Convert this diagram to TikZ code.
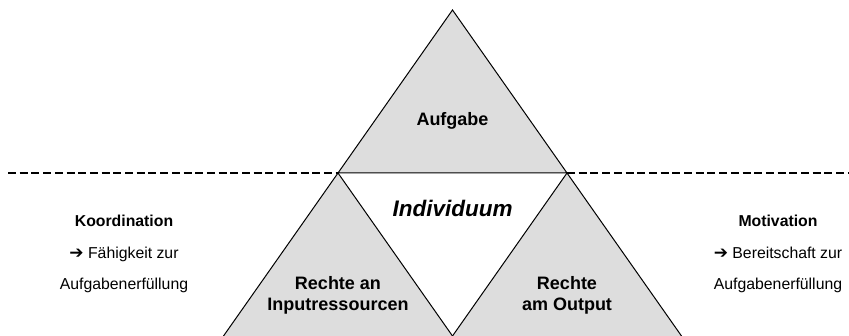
\documentclass[tikz,border=0pt]{standalone}
\usepackage{fontspec}
\setmainfont{Liberation Sans}
\newfontfamily\symfont{DejaVu Sans Bold}
\definecolor{trifill}{HTML}{DDDDDD}
\newcommand\heavyarrow{{\symfont\fontsize{17}{31.5}\selectfont ➔}}
\begin{document}
\begin{tikzpicture}[x=1pt,y=-1pt,
  tri/.style={fill=trifill,draw=black,line width=1pt,line join=miter},
  sep/.style={draw=black,line width=1.6pt,dash pattern=on 8pt off 3.7pt},
  inner/.style={font=\fontsize{18}{21.5}\selectfont\bfseries,align=center,anchor=base,inner sep=0pt},
  side/.style={font=\fontsize{15.8}{31.5}\selectfont,align=center,anchor=base,inner sep=0pt}]
\useasboundingbox (0,0) rectangle (849,336);
% corner points of the three triangles
\coordinate (top) at (452.5,10);
\coordinate (L) at (338,173);
\coordinate (R) at (567,173);
\coordinate (BL) at (223.5,336);
\coordinate (BM) at (452.5,336);
\coordinate (BR) at (681.5,336);
\coordinate (lineW) at (8,173);
\coordinate (lineE) at (849,173);
% dashed separator
\draw[sep] (lineW) -- (L);
\draw[sep] (R) -- (lineE);
% upper triangle
\filldraw[tri] (top) -- (R) -- (L) -- cycle;
% lower triangles, open at the bottom edge
\fill[trifill] (L) -- (BM) -- (BL) -- cycle;
\draw[line width=1pt] (BL) -- (L) -- (BM);
\fill[trifill] (R) -- (BR) -- (BM) -- cycle;
\draw[line width=1pt] (BM) -- (R) -- (BR);
% labels (base anchor sits on the last line)
\node[inner] (aufgabe) at (452.5,126) {Aufgabe};
\node[inner,font=\fontsize{22.5}{26}\selectfont\bfseries\itshape] (indiv) at (452.5,217) {Individuum};
\node[inner] (input) at (338,311) {Rechte an\\Inputressourcen};
\node[inner] (output) at (567,311) {Rechte\\am Output};
\node[side] (koord) at (124,290) {\textbf{Koordination}\\\heavyarrow{} Fähigkeit zur\\Aufgabenerfüllung};
\node[side] (motiv) at (778,290) {\textbf{Motivation}\\\heavyarrow{} Bereitschaft zur\\Aufgabenerfüllung};
\end{tikzpicture}
\end{document}
